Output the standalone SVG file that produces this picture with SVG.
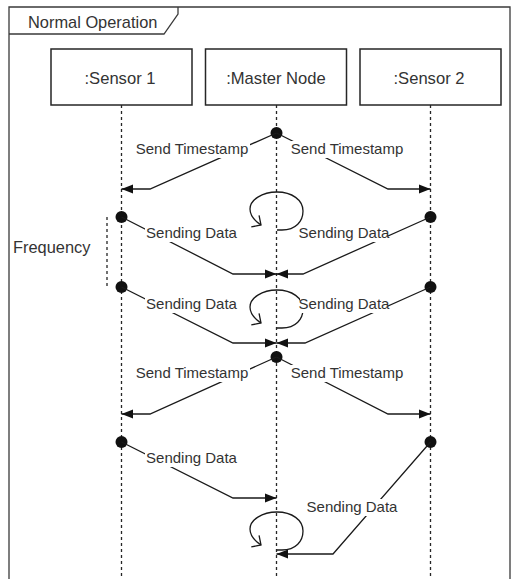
<svg xmlns="http://www.w3.org/2000/svg" width="517" height="579" viewBox="0 0 517 579">
  <style>
    .frame { fill: #ffffff; stroke: #3a3a3a; stroke-width: 1.3; }
    .tab { fill: none; stroke: #3a3a3a; stroke-width: 1.3; }
    .box { fill: #ffffff; stroke: #262626; stroke-width: 1.5; }
    .life { stroke: #262626; stroke-width: 1.3; stroke-dasharray: 3 3; fill: none; }
    .msg { fill: none; stroke: #1a1a1a; stroke-width: 1.3; marker-end: url(#block); }
    .loop { fill: none; stroke: #1a1a1a; stroke-width: 1.3; marker-end: url(#open); }
    .dot { fill: #111111; }
    .lbl-bg { fill: #ffffff; }
    text { font-family: "Liberation Sans", Arial, sans-serif; fill: #333333; }
    .t-node { font-size: 16.6px; text-anchor: middle; }
    .t-msg { font-size: 15px; text-anchor: middle; }
    .t-frame { font-size: 16.4px; }
  </style>
  <defs>
    <marker id="block" markerUnits="userSpaceOnUse" markerWidth="12" markerHeight="10" refX="11.5" refY="5" orient="auto">
      <path d="M0,0.5 L11.5,5 L0,9.5 Z" fill="#111111"/>
    </marker>
    <marker id="open" markerUnits="userSpaceOnUse" markerWidth="10" markerHeight="16" refX="7.5" refY="8" orient="auto">
      <path d="M0.5,1 L7.5,8 L0.5,15" fill="none" stroke="#1a1a1a" stroke-width="1.3"/>
    </marker>
    <!-- self-call loop, drawn relative to its bottom point on the lifeline -->
    <path id="selfLoop" class="loop" d="M0,0 L5,0 C19,0 26,-9 26,-19 C26,-30 15,-38 0,-38 C-15,-38 -27,-30 -27,-21 C-27,-14 -22,-9 -16,-5"/>
  </defs>

  <!-- combined fragment frame -->
  <g id="frame">
    <path class="frame" d="M9,590 L9,7 L510,7 L510,590"/>
    <path class="tab" d="M9,34 L164,34 L178,14 L178,7"/>
    <text class="t-frame" x="28" y="28">Normal Operation</text>
  </g>

  <!-- lifeline dashes -->
  <g id="lifelines">
    <line class="life" x1="121.5" y1="105" x2="121.5" y2="579"/>
    <line class="life" x1="276.5" y1="105" x2="276.5" y2="579"/>
    <line class="life" x1="430.5" y1="105" x2="430.5" y2="579"/>
  </g>

  <g id="sensor1">
    <rect class="box" x="51" y="49" width="141" height="56"/>
    <text class="t-node" x="120" y="84">:Sensor 1</text>
  </g>
  <g id="master">
    <rect class="box" x="205.5" y="49" width="141" height="56"/>
    <text class="t-node" x="276" y="84">:Master Node</text>
  </g>
  <g id="sensor2">
    <rect class="box" x="360" y="49" width="141" height="56"/>
    <text class="t-node" x="429" y="84">:Sensor 2</text>
  </g>

  <!-- sending frequency marker -->
  <g id="frequency">
    <line class="life" x1="107" y1="217" x2="107" y2="288"/>
    <text class="t-frame" x="13" y="253">Frequency</text>
  </g>

  <!-- messages, self loops and their labels -->
  <g id="connectors">
    <!-- timestamp broadcast 1 -->
    <circle class="dot" cx="276.5" cy="133" r="6"/>
    <path class="msg" d="M276.5,133 L150,189 L121.5,189"/>
    <path class="msg" d="M276.5,133 L388,189 L430.5,189"/>
    <rect class="lbl-bg" x="134" y="141" width="116" height="17"/>
    <text class="t-msg" x="192" y="154">Send Timestamp</text>
    <rect class="lbl-bg" x="288" y="141" width="117" height="17"/>
    <text class="t-msg" x="347" y="154">Send Timestamp</text>

    <!-- loop 1 -->
    <use href="#selfLoop" x="277" y="230"/>

    <!-- data round 1 -->
    <circle class="dot" cx="121.5" cy="217" r="6"/>
    <circle class="dot" cx="430.5" cy="217" r="6"/>
    <path class="msg" d="M121.5,217 L233,274 L276.5,274"/>
    <path class="msg" d="M430.5,217 L303,274 L276.5,274"/>
    <rect class="lbl-bg" x="145" y="225" width="93" height="17"/>
    <text class="t-msg" x="191.5" y="238">Sending Data</text>
    <rect class="lbl-bg" x="300" y="225" width="88" height="17"/>
    <text class="t-msg" x="344" y="238">Sending Data</text>

    <!-- data round 2 -->
    <circle class="dot" cx="121.5" cy="287" r="6"/>
    <circle class="dot" cx="430.5" cy="287" r="6"/>
    <path class="msg" d="M121.5,287 L233,343 L276.5,343"/>
    <path class="msg" d="M430.5,287 L305,343 L276.5,343"/>

    <!-- loop 2 -->
    <use href="#selfLoop" x="277" y="328"/>

    <rect class="lbl-bg" x="145" y="296" width="93" height="17"/>
    <text class="t-msg" x="191.5" y="309">Sending Data</text>
    <rect class="lbl-bg" x="300" y="296" width="88" height="17"/>
    <text class="t-msg" x="344" y="309">Sending Data</text>

    <!-- timestamp broadcast 2 -->
    <circle class="dot" cx="276.5" cy="357" r="6"/>
    <path class="msg" d="M276.5,357 L150,414 L121.5,414"/>
    <path class="msg" d="M276.5,357 L388,414 L430.5,414"/>
    <rect class="lbl-bg" x="134" y="365" width="116" height="17"/>
    <text class="t-msg" x="192" y="378">Send Timestamp</text>
    <rect class="lbl-bg" x="288" y="365" width="117" height="17"/>
    <text class="t-msg" x="347" y="378">Send Timestamp</text>

    <!-- data round 3 -->
    <circle class="dot" cx="121.5" cy="442" r="6"/>
    <circle class="dot" cx="430.5" cy="442" r="6"/>
    <path class="msg" d="M121.5,442 L233,498 L276.5,498"/>
    <path class="msg" d="M430.5,442 L333,554 L276.5,554"/>
    <rect class="lbl-bg" x="145" y="450" width="93" height="17"/>
    <text class="t-msg" x="191.5" y="463">Sending Data</text>
    <rect class="lbl-bg" x="305" y="499" width="94" height="17"/>
    <text class="t-msg" x="352" y="512">Sending Data</text>

    <!-- loop 3 -->
    <use href="#selfLoop" x="277" y="550"/>
  </g>
</svg>
